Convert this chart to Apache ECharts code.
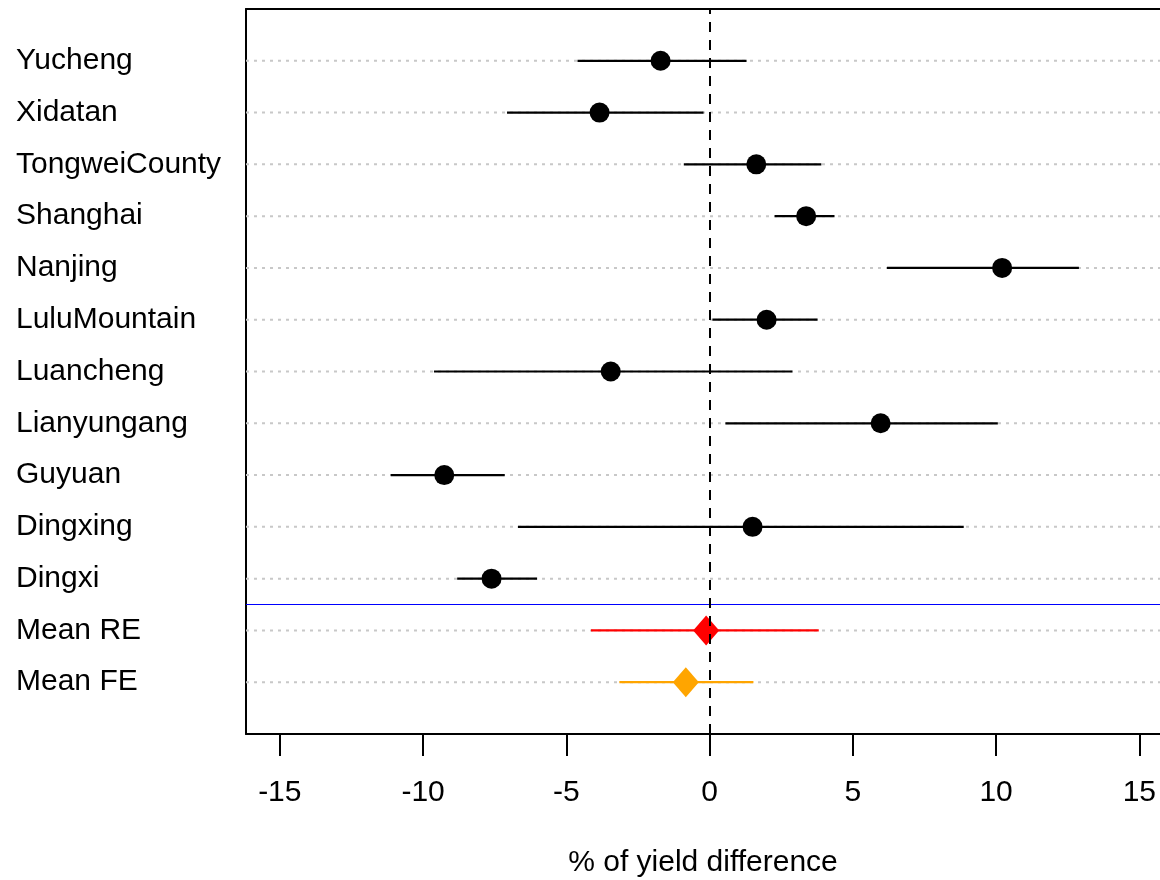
<!DOCTYPE html>
<html>
<head>
<meta charset="utf-8">
<script src="https://cdn.jsdelivr.net/npm/echarts@6/dist/echarts.min.js"></script>
<style>html,body{margin:0;padding:0;background:#fff}#c{width:1160px;height:880px}</style>
</head>
<body>
<div id="c"></div>
<script>
// Rows listed top to bottom
var sites = ["Yucheng","Xidatan","TongweiCounty","Shanghai","Nanjing","LuluMountain","Luancheng","Lianyungang","Guyuan","Dingxing","Dingxi","Mean RE","Mean FE"];
var estimate = [-1.71, -3.84, 1.63, 3.37, 10.21, 1.99, -3.45, 5.97, -9.26, 1.50, -7.61, -0.12, -0.83];
var lower    = [-4.61, -7.07, -0.90, 2.27, 6.19, 0.10, -9.62, 0.55, -11.13, -6.69, -8.81, -4.14, -3.15];
var upper    = [1.29, -0.21, 3.90, 4.36, 12.89, 3.77, 2.89, 10.06, -7.15, 8.87, -6.02, 3.81, 1.53];
var rowKind  = ["site","site","site","site","site","site","site","site","site","site","site","RE","FE"];
var xTicks = [-15, -10, -5, 0, 5, 10, 15];
var xMin = -16.18, xMax = 15.72;

var kindColor = {site: "#000000", RE: "#ff0000", FE: "#ffa500"};
var n = sites.length;
function rowY(i){ return n - i; }
var yVals = sites.map(function(_, i){ return rowY(i); });
var labelByY = {};
sites.forEach(function(s, i){ labelByY[rowY(i)] = s; });

var ciData = sites.map(function(s, i){ return [lower[i], upper[i], rowY(i), i]; });
var ptData = sites.map(function(s, i){
  var k = rowKind[i];
  return {
    value: [estimate[i], rowY(i)],
    symbol: k === "site" ? "circle" : "diamond",
    symbolSize: k === "site" ? 20 : [26, 30],
    itemStyle: {color: kindColor[k], opacity: 1}
  };
});
var gridData = yVals.map(function(y){ return [xMin, xMax, y]; });

var font = "'Liberation Sans', Arial, sans-serif";
var chart = echarts.init(document.getElementById('c'), null, {renderer: 'canvas'});
chart.setOption({
  animation: false,
  backgroundColor: '#ffffff',
  grid: {left: 246, right: 0, top: 9, bottom: 146, show: false, containLabel: false, outerBoundsMode: 'none'},
  xAxis: [{
    type: 'value', min: xMin, max: xMax, position: 'bottom',
    name: '% of yield difference', nameLocation: 'middle', nameGap: 114,
    nameTextStyle: {fontFamily: font, fontSize: 30, color: '#000'},
    axisLine: {show: true, onZero: false, lineStyle: {color: '#000', width: 2}},
    axisTick: {show: true, customValues: xTicks, length: 22, inside: false, lineStyle: {color: '#000', width: 2}},
    axisLabel: {customValues: xTicks, margin: 44, fontFamily: font, fontSize: 30, color: '#000',
      formatter: function(v){ return String(v); }},
    splitLine: {show: false}
  }, {
    type: 'value', min: xMin, max: xMax, position: 'top',
    axisLine: {show: true, onZero: false, lineStyle: {color: '#000', width: 2}},
    axisTick: {show: false}, axisLabel: {show: false}, splitLine: {show: false}
  }],
  yAxis: {
    type: 'value', min: 0, max: 14,
    axisLine: {show: true, onZero: false, lineStyle: {color: '#000', width: 2}},
    axisTick: {show: false},
    axisLabel: {customValues: yVals, margin: 230, align: 'left', fontFamily: font, fontSize: 30, color: '#000',
      padding: [5, 0, 0, 0],
      formatter: function(v){ return labelByY[v] || ''; }},
    splitLine: {show: false}
  },
  series: [
    {
      type: 'custom', silent: true, z: 1,
      data: gridData,
      renderItem: function(params, api){
        var a = api.coord([api.value(0), api.value(2)]);
        var b = api.coord([api.value(1), api.value(2)]);
        return {type: 'line', shape: {x1: a[0], y1: a[1], x2: b[0], y2: b[1]},
          style: {stroke: '#c8c8c8', lineWidth: 2, lineDash: [3, 5]}};
      }
    },
    {
      type: 'line', data: [], silent: true, z: 2,
      markLine: {
        silent: true, symbol: ['none','none'], label: {show: false},
        lineStyle: {color: '#0000ff', width: 1, type: 'solid'},
        emphasis: {disabled: true},
        data: [{yAxis: 2.5}]
      }
    },
    {
      type: 'line', data: [], silent: true, z: 2,
      markLine: {
        silent: true, symbol: ['none','none'], label: {show: false},
        lineStyle: {color: '#000000', width: 2, type: [10, 8]},
        emphasis: {disabled: true},
        data: [{xAxis: 0}]
      }
    },
    {
      type: 'custom', silent: true, z: 3,
      data: ciData,
      renderItem: function(params, api){
        var i = api.value(3);
        var a = api.coord([api.value(0), api.value(2)]);
        var b = api.coord([api.value(1), api.value(2)]);
        return {type: 'line', shape: {x1: a[0], y1: a[1], x2: b[0], y2: b[1]},
          style: {stroke: kindColor[rowKind[i]], lineWidth: 2.2}};
      }
    },
    {
      type: 'scatter', z: 4, silent: true,
      itemStyle: {opacity: 1},
      data: ptData
    }
  ]
});
</script>
</body>
</html>
